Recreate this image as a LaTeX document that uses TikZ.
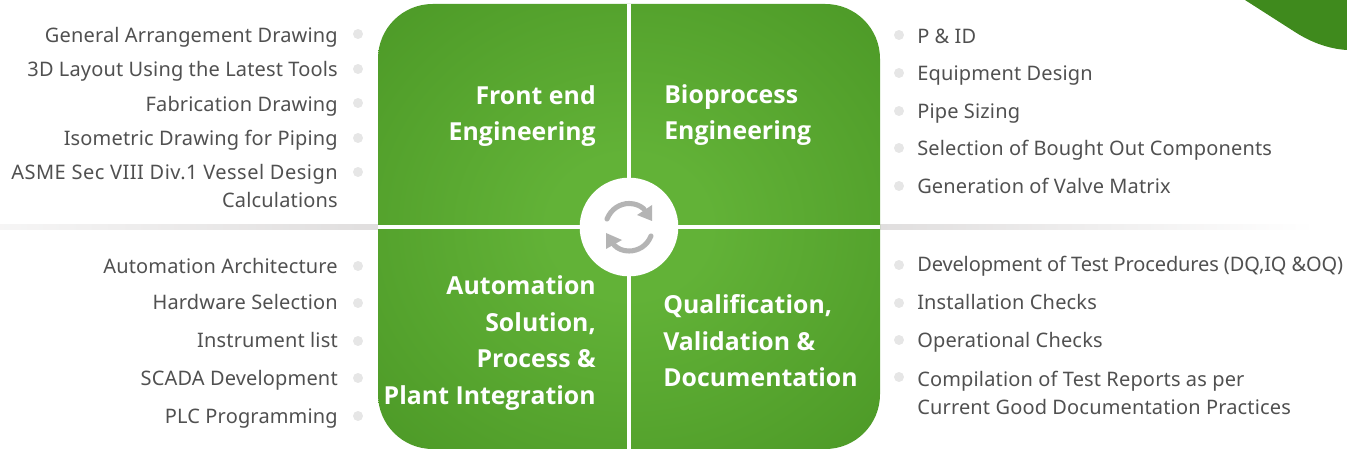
\documentclass[tikz,border=0pt]{standalone}
\usepackage{fontspec}
\setmainfont[LetterSpace=0.8]{Noto Sans}
\newfontfamily\headfont[LetterSpace=0.2]{Open Sans}
\definecolor{leafgreen}{HTML}{3F8A1D}
\definecolor{midgreen}{HTML}{62B237}
\definecolor{itemgrey}{HTML}{505050}
\definecolor{dotgrey}{HTML}{E6E6E6}
\definecolor{iconfill}{HTML}{B4B4B4}
\definecolor{ruleline}{HTML}{E0DEDE}
\pgfdeclareradialshading{squareglow}{\pgfpoint{0bp}{0bp}}{color(0bp)=(midgreen); color(8bp)=(midgreen); color(40bp)=(leafgreen!72!midgreen); color(56bp)=(leafgreen); color(100bp)=(leafgreen)}
\tikzset{
	item/.style={text=itemgrey,font=\fontsize{15}{21}\selectfont,inner sep=0pt},
	itemleft/.style={item,anchor=base east,align=right},
	itemright/.style={item,anchor=base west,align=left},
	dot/.style={circle,fill=dotgrey,minimum size=7.5pt,inner sep=0pt},
	heading/.style={text=white,font=\fontsize{18.6}{27.3}\selectfont\headfont\bfseries,inner sep=0pt},
}
\begin{document}
\begin{tikzpicture}[x=0.75pt,y=-0.75pt]
	\useasboundingbox (0,0) rectangle (1347,449);

	% corner leaf
	\fill[leafgreen] (1245,0) -- (1295,32) .. controls (1312,43) and (1330,49) .. (1347,50) -- (1347,0) -- cycle;

	% divider
	\shade[left color=ruleline!30,right color=ruleline] (0,225) rectangle (378,229.5);
	\shade[left color=ruleline,right color=white] (880,225) rectangle (1315,229.5);

	% big square
	\path[rounded corners=41pt,shading=squareglow] (378,4) rectangle (880,449);
	\fill[white] (627,4) rectangle (631,449);
	\fill[white] (378,225) rectangle (880,229.5);
	\node[circle,fill=white,minimum size=74pt,inner sep=0pt] (hub) at (629,227) {};

	% arrows of the hub
	\draw[iconfill,line width=3.8pt,line cap=round] (607,219) .. controls (611,209) and (620,203.5) .. (629,203.5) .. controls (635,203.5) and (640,205.5) .. (644,209);
	\fill[iconfill] (652,205) -- (652,221) -- (637,215) -- cycle;
	\draw[iconfill,line width=3.8pt,line cap=round] (651,236) .. controls (647,246) and (638,251) .. (629,251) .. controls (623,251) and (618,249) .. (614,245);
	\fill[iconfill] (606,233) -- (606,249) -- (622,240) -- cycle;

	% headings
	\node[heading,align=right,anchor=base east] (frontend) at (596,141) {Front end\\Engineering};
	\node[heading,align=left,anchor=base west] (bioprocess) at (664,140) {Bioprocess\\Engineering};
	\node[heading,align=right,anchor=base east] (automation) at (596,404) {Automation\\Solution,\\Process \&\\Plant Integration};
	\node[heading,align=left,anchor=base west] (qualification) at (663,386.5) {Qualification,\\Validation \&\\Documentation};

	% top left
	\node[itemleft] (ga) at (338,43) {General Arrangement Drawing};
	\node[dot] (gadot) at (358,34) {};
	\node[itemleft] (layout) at (338,77) {3D Layout Using the Latest Tools};
	\node[dot] (layoutdot) at (358,69) {};
	\node[itemleft] (fabrication) at (338,112) {Fabrication Drawing};
	\node[dot] (fabricationdot) at (358,103) {};
	\node[itemleft] (isometric) at (338,146) {Isometric Drawing for Piping};
	\node[dot] (isometricdot) at (358,138) {};
	\node[itemleft] (asme) at (338,208) {\addfontfeature{LetterSpace=2.5}ASME Sec VIII Div.1 Vessel Design\\Calculations};
	\node[dot] (asmedot) at (358,172) {};

	% bottom left
	\node[itemleft] (architecture) at (338,273) {Automation Architecture};
	\node[dot] (architecturedot) at (358,266) {};
	\node[itemleft] (hardware) at (338,310) {Hardware Selection};
	\node[dot] (hardwaredot) at (358,303) {};
	\node[itemleft] (instrument) at (338,348) {Instrument list};
	\node[dot] (instrumentdot) at (358,341) {};
	\node[itemleft] (scada) at (338,385) {SCADA Development};
	\node[dot] (scadadot) at (358,378) {};
	\node[itemleft] (plc) at (338,423) {PLC Programming};
	\node[dot] (plcdot) at (358,416) {};

	% top right
	\node[dot] (piddot) at (899,35) {};
	\node[itemright] (pid) at (917,44) {P \& ID};
	\node[dot] (equipmentdot) at (899,73) {};
	\node[itemright] (equipment) at (917,81) {Equipment Design};
	\node[dot] (pipedot) at (899,111) {};
	\node[itemright] (pipe) at (917,119) {Pipe Sizing};
	\node[dot] (boughtdot) at (899,148) {};
	\node[itemright] (bought) at (917,156) {Selection of Bought Out Components};
	\node[dot] (valvedot) at (899,186) {};
	\node[itemright] (valve) at (917,194) {Generation of Valve Matrix};

	% bottom right
	\node[dot] (proceduredot) at (899,265) {};
	\node[itemright] (procedure) at (917,272) {\addfontfeature{LetterSpace=-0.6}Development of Test Procedures (DQ,IQ \&OQ)};
	\node[dot] (installationdot) at (899,303) {};
	\node[itemright] (installation) at (917,310) {Installation Checks};
	\node[dot] (operationaldot) at (899,340) {};
	\node[itemright] (operational) at (917,347) {Operational Checks};
	\node[dot] (reportdot) at (899,377) {};
	\node[itemright] (report) at (917,414) {Compilation of Test Reports as per\\Current Good Documentation Practices};
\end{tikzpicture}
\end{document}
